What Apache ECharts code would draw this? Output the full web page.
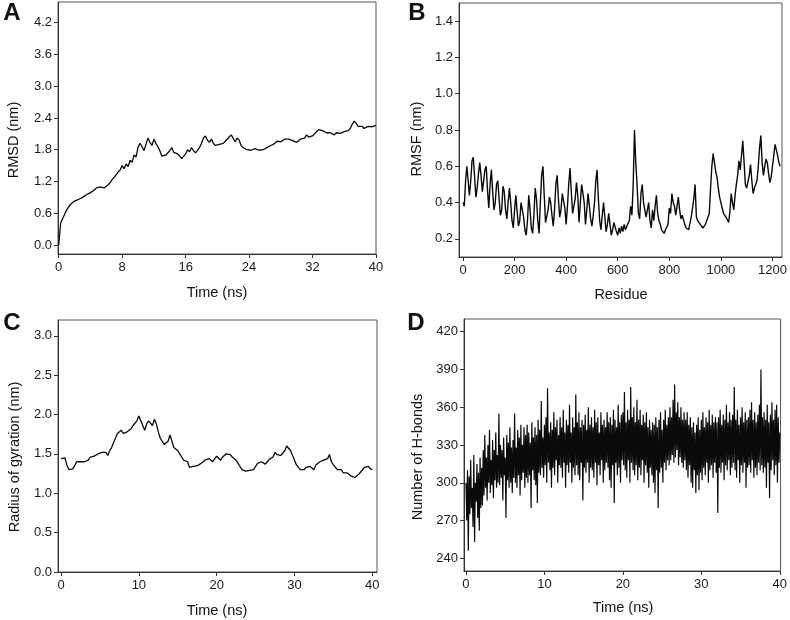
<!DOCTYPE html>
<html><head><meta charset="utf-8">
<script src="https://cdn.jsdelivr.net/npm/echarts@6/dist/echarts.min.js"></script>
<style>html,body{margin:0;padding:0;background:#fff}#c{width:790px;height:620px}</style>
</head><body><div id="c"></div>
<script>
// Panel A: RMSD (nm), sampled every 0.25 ns
const rmsdStep = 0.25;
const rmsd = [0.00,0.42,0.50,0.58,0.66,0.72,0.77,0.80,0.83,0.85,0.86,0.88,0.90,0.92,0.95,0.97,0.99,1.01,1.04,1.08,
1.07,1.10,1.12,1.08,1.11,1.14,1.18,1.24,1.28,1.33,1.38,1.42,1.50,1.44,1.53,1.48,1.60,1.56,1.70,1.66,
1.85,1.92,1.86,1.78,1.90,2.02,1.94,1.88,2.00,1.92,1.86,1.78,1.68,1.65,1.70,1.72,1.78,1.84,1.75,1.74,
1.72,1.68,1.63,1.66,1.72,1.80,1.76,1.84,1.78,1.74,1.76,1.84,1.92,2.02,2.06,1.98,1.94,2.00,1.92,1.88,
1.86,1.90,1.88,1.92,1.96,1.94,2.04,2.08,2.06,1.95,2.02,1.98,1.88,1.84,1.82,1.80,1.81,1.79,1.80,1.82,
1.80,1.79,1.81,1.80,1.82,1.84,1.86,1.88,1.87,1.92,1.96,1.97,1.95,1.98,2.00,2.03,2.00,1.98,1.97,1.96,
1.94,1.97,2.00,1.99,2.02,2.08,2.04,2.02,2.06,2.10,2.14,2.18,2.20,2.16,2.14,2.12,2.10,2.12,2.10,2.08,
2.12,2.10,2.11,2.12,2.14,2.13,2.16,2.20,2.28,2.34,2.30,2.24,2.22,2.24,2.20,2.22,2.24,2.21,2.23,2.22,2.26];
const rmsdTicks = [0, 8, 16, 24, 32, 40];
const rmsdYTicks = [0.0, 0.6, 1.2, 1.8, 2.4, 3.0, 3.6, 4.2];

// Panel B: RMSF (nm) per residue, sampled every 5 residues
const rmsfStep = 5;
const rmsf = [
0.40,0.38,0.52,0.60,0.52,0.44,0.52,0.63,0.65,0.54,0.43,0.48,0.56,0.62,0.55,0.46,0.46,0.58,0.60,0.47,
0.37,0.50,0.58,0.46,0.36,0.40,0.50,0.52,0.42,0.33,0.36,0.49,0.46,0.36,0.31,0.40,0.48,0.40,0.30,0.26,
0.36,0.44,0.35,0.27,0.30,0.40,0.41,0.32,0.25,0.22,0.30,0.44,0.36,0.26,0.23,0.33,0.48,0.42,0.30,0.23,
0.40,0.55,0.60,0.44,0.29,0.30,0.36,0.43,0.40,0.33,0.27,0.36,0.50,0.55,0.42,0.32,0.36,0.45,0.46,0.37,
0.28,0.38,0.50,0.59,0.46,0.34,0.33,0.42,0.51,0.44,0.29,0.40,0.50,0.50,0.40,0.28,0.36,0.45,0.38,0.31,
0.27,0.33,0.40,0.52,0.58,0.42,0.30,0.25,0.33,0.40,0.32,0.24,0.28,0.34,0.28,0.22,0.25,0.29,0.29,0.24,
0.22,
0.26,0.23,0.27,0.24,0.28,0.25,0.27,0.26,0.30,0.38,0.33,0.50,0.80,0.62,0.50,0.34,0.31,0.45,0.50,0.40,
0.41,0.32,0.36,0.40,0.30,0.26,0.36,0.30,0.38,0.44,0.34,0.30,0.28,0.25,0.24,0.23,0.25,0.24,0.28,0.37,
0.34,0.45,0.40,0.38,0.33,0.38,0.43,0.36,0.31,0.33,0.34,0.28,0.26,0.25,0.25,0.26,0.32,0.37,0.42,0.50,
0.32,0.30,0.29,0.28,0.27,0.26,0.27,0.28,0.30,0.31,0.34,0.48,0.60,0.67,0.62,0.57,0.54,0.48,0.43,0.40,
0.37,0.34,0.35,0.32,0.31,0.29,0.35,0.45,0.40,0.36,0.44,0.50,0.55,0.63,0.58,0.66,0.74,0.62,0.50,0.48,
0.47,0.55,0.61,0.52,0.45,0.48,0.50,0.52,0.60,0.70,0.77,0.62,0.55,0.60,0.64,0.62,0.56,0.51,0.54,0.60,
0.66,0.72,0.69,0.66,0.62,0.60];
const rmsfTicks = [0, 200, 400, 600, 800, 1000, 1200];
const rmsfYTicks = [0.2, 0.4, 0.6, 0.8, 1.0, 1.2, 1.4];

// Panel C: Radius of gyration (nm), sampled every 0.25 ns
const rgStep = 0.25;
const rg = [1.44,1.43,1.45,1.36,1.30,1.32,1.31,1.35,1.40,1.41,1.40,1.42,1.40,1.38,1.42,1.46,1.44,1.47,1.48,1.50,
1.49,1.52,1.50,1.52,1.48,1.54,1.58,1.64,1.70,1.76,1.74,1.80,1.76,1.74,1.78,1.76,1.82,1.86,1.84,1.92,
1.98,1.92,1.86,1.80,1.88,1.92,1.90,1.86,1.94,1.88,1.78,1.70,1.66,1.62,1.64,1.66,1.74,1.66,1.58,1.56,
1.54,1.50,1.46,1.42,1.42,1.40,1.33,1.31,1.34,1.33,1.35,1.34,1.38,1.40,1.42,1.40,1.44,1.42,1.40,1.44,
1.47,1.45,1.42,1.46,1.48,1.50,1.52,1.49,1.46,1.44,1.42,1.38,1.34,1.30,1.31,1.28,1.30,1.29,1.28,1.30,
1.34,1.38,1.36,1.40,1.38,1.37,1.40,1.43,1.44,1.46,1.52,1.49,1.50,1.48,1.50,1.54,1.60,1.58,1.54,1.48,
1.42,1.36,1.34,1.30,1.32,1.30,1.33,1.31,1.34,1.32,1.30,1.36,1.38,1.40,1.38,1.42,1.40,1.44,1.49,1.40,
1.36,1.34,1.30,1.32,1.30,1.26,1.24,1.26,1.24,1.22,1.24,1.20,1.22,1.24,1.27,1.26,1.33,1.32,1.34,1.31,1.30];
const rgTicks = [0, 10, 20, 30, 40];
const rgYTicks = [0.0, 0.5, 1.0, 1.5, 2.0, 2.5, 3.0];

// Panel D: number of H-bonds, sampled every 0.1 ns
const hbStep = 0.1;
const hbonds = [
300,270,310,246,305,275,318,280,296,265,322,253,300,285,315,272,308,262,320,280,
312,282,326,290,338,296,320,286,330,300,342,292,318,298,334,288,326,302,340,296,
322,300,355,298,330,304,326,286,336,306,320,272,338,302,332,296,344,300,328,292,
334,304,355,300,328,296,342,306,336,290,346,302,330,308,344,296,338,304,346,300,
340,306,332,280,348,310,336,302,344,298,338,284,350,308,342,306,365,312,336,304,
346,314,352,300,375,316,340,310,348,296,342,312,356,306,344,318,350,300,338,314,
352,312,344,304,358,316,340,296,350,314,346,308,362,316,340,300,352,312,344,306,
370,314,348,306,356,302,344,316,350,286,346,312,354,308,342,316,360,300,346,312,
352,310,344,304,358,316,348,298,352,314,340,306,356,318,346,300,350,310,344,316,
356,312,348,302,352,296,346,314,358,284,350,316,344,306,362,312,348,300,354,318,
356,314,372,310,348,304,358,318,350,300,376,316,352,310,360,306,348,314,366,302,
350,312,358,306,346,318,354,300,348,314,356,308,344,296,350,312,342,306,348,300,
346,292,352,310,344,280,350,308,356,312,342,300,350,316,358,310,346,318,352,314,
360,318,352,322,366,316,378,320,356,326,364,314,352,320,360,316,350,312,356,318,
350,310,356,304,346,314,352,300,344,296,348,310,340,292,346,306,352,294,342,308,
350,302,356,312,344,306,352,316,348,300,358,310,346,314,354,304,348,316,352,308,
348,276,352,312,358,308,346,316,354,302,350,314,362,310,348,318,356,306,350,312,
354,316,376,310,350,304,358,318,346,300,352,314,360,308,348,316,356,296,350,312,
352,314,358,308,364,318,350,304,356,312,348,306,354,316,362,310,390,314,352,308,
356,312,350,296,362,316,348,288,354,310,364,318,350,306,358,314,362,300,352,316,
340];
const hbTicks = [0, 10, 20, 30, 40];
const hbYTicks = [240, 270, 300, 330, 360, 390, 420];

function pairs(vals, step) { return vals.map((v, i) => [i * step, v]); }

const FONT = "'Liberation Sans', Arial, sans-serif";
const chart = echarts.init(document.getElementById('c'), null, { renderer: 'canvas' });

const grids = [
  { left: 58, top: 2, width: 318, height: 252 },
  { left: 459, top: 3, width: 323, height: 254 },
  { left: 58, top: 320, width: 319, height: 252 },
  { left: 464, top: 319, width: 317, height: 252 }
].map(g => Object.assign({ show: true, borderColor: '#555', borderWidth: 1, backgroundColor: 'transparent', containLabel: false }, g));

function xAxis(idx, min, max, ticks, fmt) {
  return {
    type: 'value', gridIndex: idx, min: min, max: max,
    axisLine: { show: true, onZero: false, lineStyle: { color: '#333', width: 1 } },
    axisTick: { show: true, length: 4, lineStyle: { color: '#333' }, customValues: ticks },
    axisLabel: { color: '#1a1a1a', fontSize: 13, fontFamily: FONT, margin: 7, customValues: ticks, formatter: fmt || (v => String(v)) },
    splitLine: { show: false }
  };
}
function yAxis(idx, min, max, ticks, fmt) {
  return {
    type: 'value', gridIndex: idx, min: min, max: max,
    axisLine: { show: true, onZero: false, lineStyle: { color: '#333', width: 1 } },
    axisTick: { show: true, length: 4, lineStyle: { color: '#333' }, customValues: ticks },
    axisLabel: { color: '#1a1a1a', fontSize: 13, fontFamily: FONT, margin: 6, customValues: ticks, formatter: fmt || (v => String(v)) },
    splitLine: { show: false }
  };
}
const f1 = v => v.toFixed(1);

function lineSeries(idx, data, w) {
  return {
    type: 'line', xAxisIndex: idx, yAxisIndex: idx, data: data,
    showSymbol: false, symbol: 'none', smooth: false, animation: false,
    lineStyle: { color: '#0a0a0a', width: w }, silent: true
  };
}

function txt(x, y, text, size, bold, rot) {
  return {
    type: 'text', x: x, y: y, rotation: rot ? Math.PI / 2 : 0, silent: true,
    style: { text: text, fontSize: size, fontWeight: bold ? 'bold' : 'normal', fontFamily: FONT, fill: '#111', align: 'center', verticalAlign: 'middle' }
  };
}

chart.setOption({
  animation: false,
  backgroundColor: '#fff',
  grid: grids,
  xAxis: [
    xAxis(0, -0.09, 40, rmsdTicks),
    xAxis(1, -15.5, 1237, rmsfTicks),
    xAxis(2, -0.39, 40.6, rgTicks),
    xAxis(3, -0.25, 40.1, hbTicks)
  ],
  yAxis: [
    yAxis(0, -0.17, 4.59, rmsdYTicks, f1),
    yAxis(1, 0.1, 1.5, rmsfYTicks, f1),
    yAxis(2, 0, 3.2, rgYTicks, f1),
    yAxis(3, 230, 430, hbYTicks)
  ],
  series: [
    lineSeries(0, pairs(rmsd, rmsdStep), 1.3),
    lineSeries(1, pairs(rmsf, rmsfStep), 1.4),
    lineSeries(2, pairs(rg, rgStep), 1.3),
    lineSeries(3, pairs(hbonds, hbStep), 1.2)
  ],
  graphic: [
    txt(12, 13, 'A', 24, true),
    txt(417, 13, 'B', 24, true),
    txt(12, 323, 'C', 24, true),
    txt(416, 323, 'D', 24, true),
    txt(14, 140, 'RMSD (nm)', 14.5, false, true),
    txt(217, 293, 'Time (ns)', 14.5),
    txt(417, 139, 'RMSF (nm)', 14.5, false, true),
    txt(621, 295, 'Residue', 14.5),
    txt(15, 457, 'Radius of gyration (nm)', 14.5, false, true),
    txt(217, 611, 'Time (ns)', 14.5),
    txt(418, 457, 'Number of H-bonds', 14.5, false, true),
    txt(623, 608, 'Time (ns)', 14.5)
  ]
});
</script></body></html>
